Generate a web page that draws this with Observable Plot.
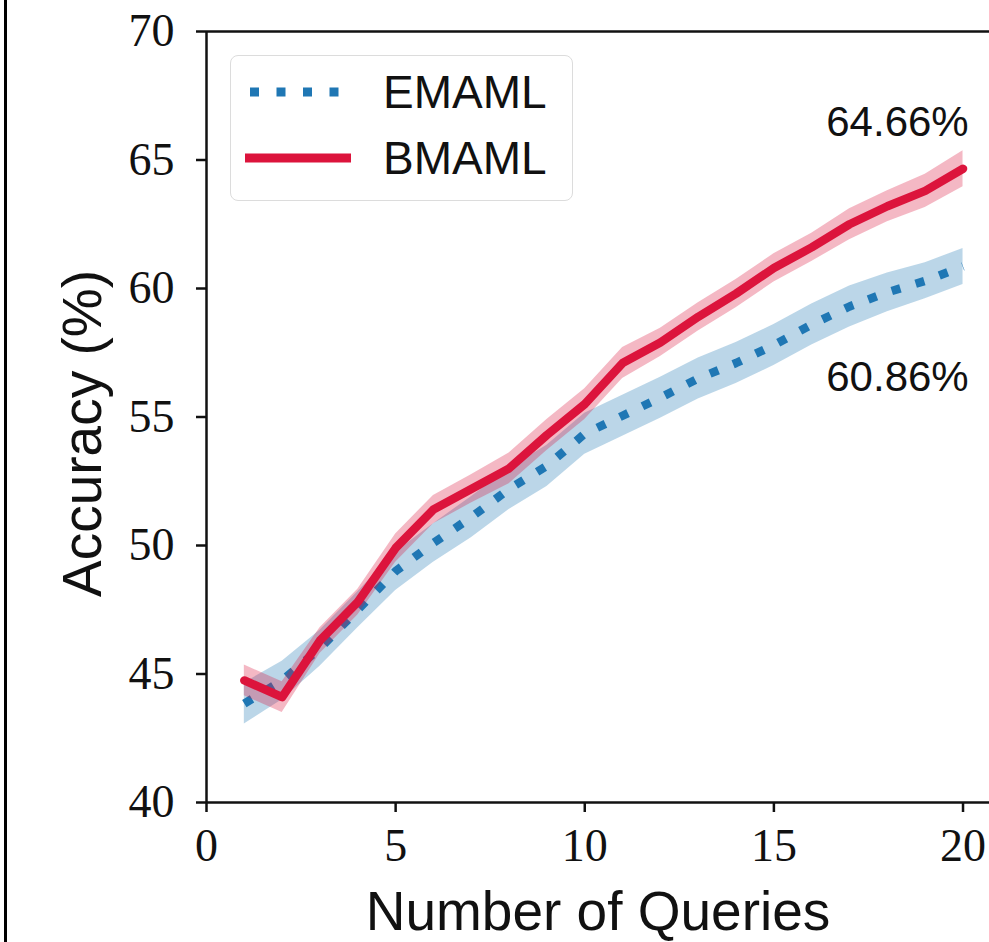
<!DOCTYPE html>
<html>
<head>
<meta charset="utf-8">
<script src="https://cdn.jsdelivr.net/npm/d3@7"></script>
<script src="https://cdn.jsdelivr.net/npm/@observablehq/plot@0.6"></script>
<style>
  html, body { margin: 0; padding: 0; background: #fff; overflow: hidden; }
  #wrap { position: relative; width: 989px; height: 942px; }
  #border { position: absolute; left: 4px; top: 0; width: 2.5px; height: 942px; background: #000; }
  #legend {
    position: absolute; left: 230px; top: 55px; width: 343px; height: 146px;
    border: 1.5px solid #dcdcdc; border-radius: 8px; background: rgba(255,255,255,0.85);
    box-sizing: border-box;
  }
  #legend .row { position: absolute; left: 0; height: 40px; width: 100%; }
  #legend svg { position: absolute; left: 14px; top: 0; }
  #legend span {
    position: absolute; left: 152px; font-family: "Liberation Sans", Arial, sans-serif;
    font-size: 46px; line-height: 46px; color: #111;
  }
</style>
</head>
<body>
<div id="wrap">
  <div id="border"></div>
</div>
<script>
// ---- data ----
const queries = [1, 2, 3, 4, 5, 6, 7, 8, 9, 10, 11, 12, 13, 14, 15, 16, 17, 18, 19, 20];
const emamlAcc = [43.85, 44.75, 46.0, 47.5, 49.0, 50.1, 51.1, 52.2, 53.1, 54.35, 55.05, 55.75, 56.5, 57.1, 57.8, 58.6, 59.3, 59.85, 60.3, 60.86];
const bmamlAcc = [44.75, 44.1, 46.3, 47.8, 49.9, 51.4, 52.2, 53.0, 54.3, 55.5, 57.1, 57.9, 58.9, 59.8, 60.8, 61.6, 62.5, 63.2, 63.8, 64.66];
const emamlSpread = [0.8, 0.75, 0.7, 0.7, 0.75, 0.75, 0.8, 0.8, 0.8, 0.8, 0.8, 0.8, 0.8, 0.8, 0.8, 0.8, 0.8, 0.75, 0.7, 0.7];
const bmamlSpread = [0.6, 0.6, 0.5, 0.5, 0.55, 0.55, 0.55, 0.6, 0.6, 0.6, 0.6, 0.55, 0.55, 0.55, 0.55, 0.55, 0.6, 0.6, 0.65, 0.7];
const seriesNames = ["EMAML", "BMAML"];
const seriesColors = ["#1f77b4", "#dc143c"];
const xTicks = [0, 5, 10, 15, 20];
const yTicks = [40, 45, 50, 55, 60, 65, 70];
const annX = [20.15, 20.15];
const annY = [56.0, 65.95];
const annLabels = ["60.86%", "64.66%"];
const xLabel = "Number of Queries";
const yLabel = "Accuracy (%)";

const emaml = queries.map((q, i) => ({x: q, y: emamlAcc[i], lo: emamlAcc[i] - emamlSpread[i], hi: emamlAcc[i] + emamlSpread[i]}));
const bmaml = queries.map((q, i) => ({x: q, y: bmamlAcc[i], lo: bmamlAcc[i] - bmamlSpread[i], hi: bmamlAcc[i] + bmamlSpread[i]}));
const ann = annLabels.map((t, i) => ({x: annX[i], y: annY[i], t}));

const tickFont = {fontFamily: "Liberation Serif, serif", fontSize: 46, fill: "#111"};

const chart = Plot.plot({
  width: 989,
  height: 942,
  marginLeft: 206,
  marginRight: 0,
  marginTop: 31,
  marginBottom: 140,
  style: {background: "transparent", overflow: "visible"},
  x: {domain: [0, 20.7]},
  y: {domain: [40, 70]},
  marks: [
    Plot.areaY(emaml, {x: "x", y1: "lo", y2: "hi", fill: seriesColors[0], fillOpacity: 0.3}),
    Plot.lineY(emaml, {x: "x", y: "y", stroke: seriesColors[0], strokeWidth: 8.5, strokeDasharray: "9,16", strokeLinecap: "butt"}),
    Plot.areaY(bmaml, {x: "x", y1: "lo", y2: "hi", fill: seriesColors[1], fillOpacity: 0.3}),
    Plot.lineY(bmaml, {x: "x", y: "y", stroke: seriesColors[1], strokeWidth: 8.5, strokeLinejoin: "round"}),
    Plot.ruleX([0], {stroke: "#111", strokeWidth: 2.5}),
    Plot.ruleY([40, 70], {stroke: "#111", strokeWidth: 2.5}),
    Plot.axisX({ticks: xTicks, tickSize: 10, tickPadding: 16, strokeWidth: 2.5, stroke: "#111", label: null, ...tickFont}),
    Plot.axisY({ticks: yTicks, tickSize: 10, tickPadding: 22, strokeWidth: 2.5, stroke: "#111", label: null, ...tickFont}),
    Plot.text(ann, {x: "x", y: "y", text: "t", textAnchor: "end", lineAnchor: "bottom", fontFamily: "Liberation Sans, sans-serif", fontSize: 42, fill: "#111"}),
    Plot.text([xLabel], {frameAnchor: "bottom", dy: 127, lineAnchor: "bottom", fontFamily: "Liberation Sans, sans-serif", fontSize: 55, fill: "#111"}),
    Plot.text([yLabel], {frameAnchor: "left", dx: -106, dy: 180, rotate: -90, lineAnchor: "bottom", fontFamily: "Liberation Sans, sans-serif", fontSize: 55, fill: "#111"})
  ]
});
chart.style.position = "absolute";
chart.style.left = "0px";
chart.style.top = "0px";
const wrap = document.getElementById("wrap");
wrap.appendChild(chart);

// legend
const legend = document.createElement("div");
legend.id = "legend";
const rows = [
  {name: seriesNames[0], color: seriesColors[0], dash: "9,17.5", top: 16},
  {name: seriesNames[1], color: seriesColors[1], dash: null, top: 82}
];
for (const r of rows) {
  const row = document.createElement("div");
  row.className = "row";
  row.style.top = r.top + "px";
  const ns = "http://www.w3.org/2000/svg";
  const svg = document.createElementNS(ns, "svg");
  svg.setAttribute("width", "110");
  svg.setAttribute("height", "40");
  const line = document.createElementNS(ns, "line");
  line.setAttribute("x1", r.dash ? 5 : 0);
  line.setAttribute("x2", r.dash ? 110 : 106);
  line.setAttribute("y1", 20);
  line.setAttribute("y2", 20);
  line.setAttribute("stroke", r.color);
  line.setAttribute("stroke-width", 9);
  if (r.dash) line.setAttribute("stroke-dasharray", r.dash);
  svg.appendChild(line);
  const span = document.createElement("span");
  span.textContent = r.name;
  span.style.top = "-3px";
  row.appendChild(svg);
  row.appendChild(span);
  legend.appendChild(row);
}
wrap.appendChild(legend);
</script>
</body>
</html>
